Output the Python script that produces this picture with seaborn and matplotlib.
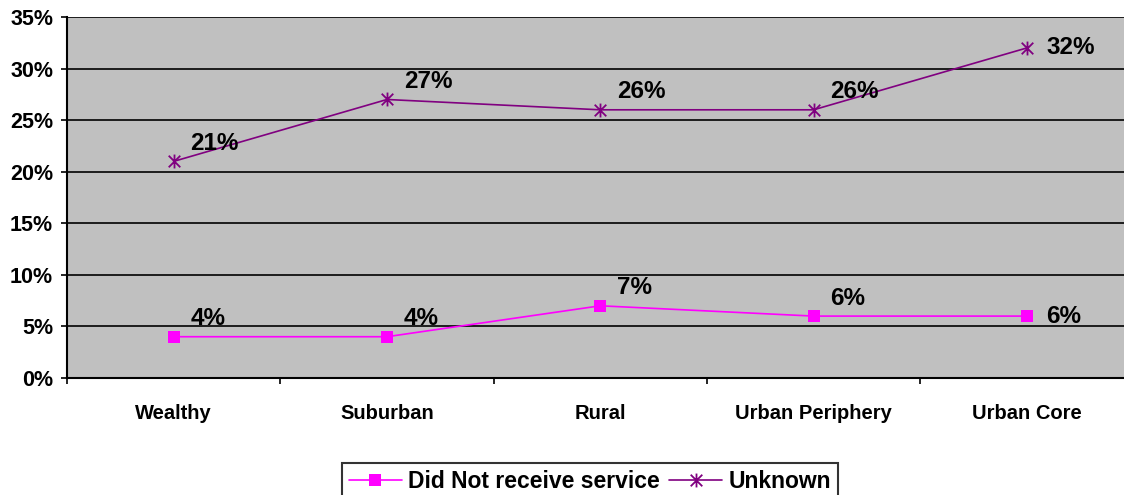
import pandas as pd
import matplotlib
matplotlib.use('Agg')
import matplotlib.pyplot as plt
from matplotlib.path import Path
import seaborn as sns

# === DATA ===
categories = ['Wealthy', 'Suburban', 'Rural', 'Urban Periphery', 'Urban Core']
did_not_receive = [4, 4, 7, 6, 6]
unknown = [21, 27, 26, 26, 32]
y_ticks = [0, 5, 10, 15, 20, 25, 30, 35]

sns.set_style('white', rc={'text.color': 'black', 'xtick.color': 'black',
                           'ytick.color': 'black', 'axes.labelcolor': 'black',
                           'xtick.bottom': True, 'ytick.left': True})
plt.rcParams['font.family'] = ['Liberation Sans', 'DejaVu Sans']

df = pd.DataFrame({
    'area': categories * 2,
    'pct': did_not_receive + unknown,
    'series': ['Did Not receive service'] * 5 + ['Unknown'] * 5,
})

# excel-style asterisk: an X with a vertical bar
asterisk = Path([(-1, -1), (1, 1), (-1, 1), (1, -1), (0, -1.2), (0, 1.2)],
                [Path.MOVETO, Path.LINETO] * 3)

fig = plt.figure(figsize=(11.24, 4.95), dpi=100)
ax = fig.add_axes([0.0596, 0.2364, 0.9489, 0.7293])
ax.set_facecolor('#C0C0C0')

styles = {
    'Did Not receive service': dict(color='#FF00FF', marker='s', ms=8.5, mew=0),
    'Unknown': dict(color='#800080', marker=asterisk, ms=10, mew=1.3),
}
for name, sub in df.groupby('series', sort=False):
    st = styles[name]
    sns.lineplot(data=sub, x='area', y='pct', ax=ax, label=name, color=st['color'],
                 marker=st['marker'], markersize=st['ms'], markeredgewidth=st['mew'],
                 markeredgecolor=st['color'], linewidth=1.2)

# data labels
for vals in (did_not_receive, unknown):
    for i, v in enumerate(vals):
        if i == len(vals) - 1:
            ax.annotate(f'{v}%', (i, v), xytext=(14, 0), textcoords='offset points',
                        ha='left', va='center', fontsize=17.5, fontweight='bold',
                        color='black')
        else:
            ax.annotate(f'{v}%', (i, v), xytext=(12, 13), textcoords='offset points',
                        ha='left', va='center', fontsize=17.5, fontweight='bold',
                        color='black')

ax.set_xlim(-0.5, 4.5)
ax.set_ylim(0, 35)
ax.set_yticks(y_ticks)
ax.set_yticklabels([f'{t}%' for t in y_ticks], fontsize=15.5, fontweight='bold')
ax.yaxis.grid(True, color='black', linewidth=1.2)
ax.set_axisbelow(True)

ax.set_xticks(range(len(categories)))
ax.set_xticklabels(categories, fontsize=14.5, fontweight='bold')
ax.set_xticks([i + 0.5 for i in range(-1, len(categories))], minor=True)
ax.tick_params(axis='x', which='major', length=0, pad=19)
ax.tick_params(axis='x', which='minor', bottom=True, length=4, width=1.2,
               color='black', direction='out')
ax.tick_params(axis='y', left=True, length=4, width=1.2, color='black',
               direction='out', pad=6)
ax.set_xlabel('')
ax.set_ylabel('')

for s in ['top', 'right']:
    ax.spines[s].set_visible(False)
for s in ['left', 'bottom']:
    ax.spines[s].set_color('black')
    ax.spines[s].set_linewidth(1.5)

ax.get_legend().remove()
handles, labels = ax.get_legend_handles_labels()
leg = fig.legend(handles, labels, loc='upper center', bbox_to_anchor=(0.525, 0.088),
                 ncol=2, frameon=True, fancybox=False, edgecolor='black',
                 prop={'size': 16.5, 'weight': 'bold'}, handlelength=2.3,
                 columnspacing=0.4, handletextpad=0.3, borderpad=0.3,
                 labelcolor='black')
leg.get_frame().set_linewidth(1.5)

fig.savefig('out.png', dpi=100)
